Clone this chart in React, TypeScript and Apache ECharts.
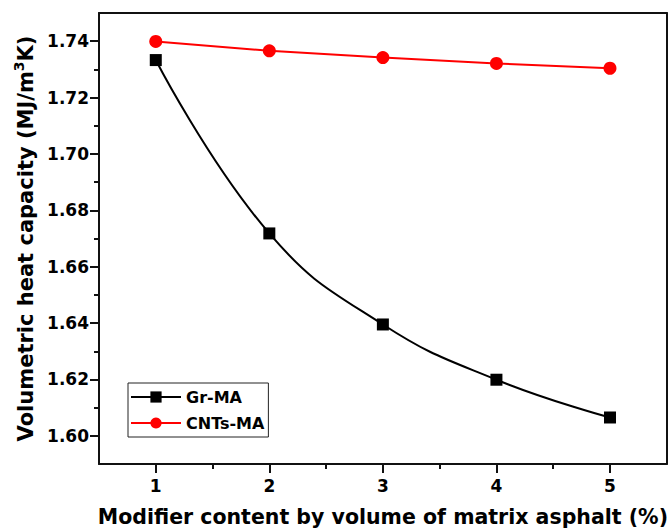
import React, { useEffect, useRef } from "react";
import * as echarts from "echarts";

// Modifier content (% by volume of matrix asphalt)
const contents = [1, 2, 3, 4, 5];
// Volumetric heat capacity (MJ/m³K)
const grMA = [1.7333, 1.6718, 1.6395, 1.6199, 1.6065];
const cntsMA = [1.7399, 1.7366, 1.7342, 1.7321, 1.7304];

const yMajorTicks = [1.6, 1.62, 1.64, 1.66, 1.68, 1.7, 1.72, 1.74];
const yMinorTicks = [1.61, 1.63, 1.65, 1.67, 1.69, 1.71, 1.73];
const xMajorTicks = [1, 2, 3, 4, 5];
const xMinorTicks = [1.5, 2.5, 3.5, 4.5];

const FONT = "'DejaVu Sans', Verdana, sans-serif";

export default function App() {
  const ref = useRef<HTMLDivElement>(null);

  useEffect(() => {
    if (!ref.current) return;
    const chart = echarts.init(ref.current, null, { renderer: "svg" });
    const axisLine = { show: true, lineStyle: { color: "#111", width: 2 } };
    const hidden = { show: false };

    chart.setOption({
      animation: false,
      backgroundColor: "#fff",
      grid: { left: 99, top: 13, right: 4, bottom: 61, containLabel: false },
      legend: {
        orient: "vertical",
        left: 128,
        top: 383,
        padding: [6, 4, 6, 2],
        itemGap: 10,
        itemWidth: 50,
        itemHeight: 14,
        borderColor: "#222",
        borderWidth: 1,
        textStyle: { fontFamily: FONT, fontWeight: "bold", fontSize: 16, color: "#000" },
        data: ["Gr-MA", "CNTs-MA"],
      },
      xAxis: [
        {
          type: "value",
          min: 0.5,
          max: 5.5,
          position: "bottom",
          axisLine,
          splitLine: hidden,
          axisTick: { show: true, customValues: xMajorTicks, length: 9, lineStyle: { width: 2, color: "#111" } },
          axisLabel: {
            customValues: xMajorTicks,
            margin: 13,
            fontFamily: FONT,
            fontWeight: "bold",
            fontSize: 17,
            color: "#000",
          },
          name: "Modifier content by volume of matrix asphalt (%)",
          nameLocation: "middle",
          nameGap: 42,
          nameTextStyle: { fontFamily: FONT, fontWeight: "bold", fontSize: 20.5, color: "#000" },
        },
        {
          type: "value",
          min: 0.5,
          max: 5.5,
          position: "bottom",
          axisLine: hidden,
          splitLine: hidden,
          axisTick: { show: true, customValues: xMinorTicks, length: 5, lineStyle: { width: 2, color: "#111" } },
          axisLabel: hidden,
        },
        {
          type: "value",
          min: 0.5,
          max: 5.5,
          position: "top",
          axisLine,
          splitLine: hidden,
          axisTick: hidden,
          axisLabel: hidden,
        },
      ],
      yAxis: [
        {
          type: "value",
          min: 1.59,
          max: 1.75,
          position: "left",
          axisLine,
          splitLine: hidden,
          axisTick: { show: true, customValues: yMajorTicks, length: 9, lineStyle: { width: 2, color: "#111" } },
          axisLabel: {
            customValues: yMajorTicks,
            margin: 10,
            formatter: (v: number) => v.toFixed(2),
            fontFamily: FONT,
            fontWeight: "bold",
            fontSize: 17,
            color: "#000",
          },
          name: "{a|Volumetric heat capacity (MJ/m}{s|3}{a|K)}",
          nameLocation: "middle",
          nameGap: 63,
          nameRotate: 90,
          nameTextStyle: {
            rich: {
              a: { fontFamily: FONT, fontWeight: "bold", fontSize: 21, color: "#000", lineHeight: 24, verticalAlign: "bottom" },
              s: { fontFamily: FONT, fontWeight: "bold", fontSize: 14, color: "#000", lineHeight: 24, verticalAlign: "top", padding: [0, 0, 8, 0] },
            },
          },
        },
        {
          type: "value",
          min: 1.59,
          max: 1.75,
          position: "left",
          axisLine: hidden,
          splitLine: hidden,
          axisTick: { show: true, customValues: yMinorTicks, length: 5, lineStyle: { width: 2, color: "#111" } },
          axisLabel: hidden,
        },
        {
          type: "value",
          min: 1.59,
          max: 1.75,
          position: "right",
          axisLine,
          splitLine: hidden,
          axisTick: hidden,
          axisLabel: hidden,
        },
      ],
      series: [
        {
          name: "Gr-MA",
          type: "line",
          smooth: 0.45,
          data: contents.map((c, i) => [c, grMA[i]]),
          symbol: "rect",
          symbolSize: 12,
          itemStyle: { color: "#000" },
          lineStyle: { color: "#000", width: 2 },
        },
        {
          name: "CNTs-MA",
          type: "line",
          data: contents.map((c, i) => [c, cntsMA[i]]),
          symbol: "circle",
          symbolSize: 13,
          itemStyle: { color: "#ff0000" },
          lineStyle: { color: "#ff0000", width: 2 },
        },
      ],
    });

    return () => chart.dispose();
  }, []);

  return (
    <div
      ref={ref}
      style={{ position: "absolute", left: 0, top: 0, width: 671, height: 532 }}
    />
  );
}
